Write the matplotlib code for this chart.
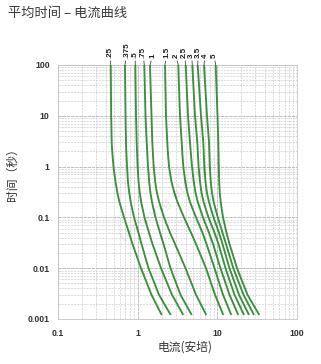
import matplotlib
matplotlib.use("Agg")
import matplotlib.pyplot as plt
from matplotlib.ticker import LogLocator, FixedLocator, FixedFormatter, NullFormatter

# ---- data ----
ratings = [".25", ".375", ".5", ".75", "1", "1.5", "2", "2.5", "3", "3.5", "4", "5"]
times = [100, 10, 3, 2, 1, 0.5, 0.3, 0.2, 0.1, 0.05, 0.03, 0.01, 0.003, 0.0012]  # s
c_025 = [0.459, 0.465, 0.472, 0.479, 0.497, 0.527, 0.558, 0.591, 0.674, 0.778, 0.861, 1.101, 1.491, 2.003]
c_0375 = [0.693, 0.704, 0.714, 0.720, 0.735, 0.756, 0.785, 0.818, 0.899, 1.024, 1.117, 1.368, 1.853, 2.598]
c_05 = [0.934, 0.953, 0.972, 0.981, 0.998, 1.027, 1.064, 1.107, 1.218, 1.388, 1.535, 1.963, 2.697, 3.740]
c_075 = [1.211, 1.254, 1.298, 1.317, 1.348, 1.396, 1.449, 1.513, 1.674, 1.907, 2.110, 2.583, 3.448, 4.767]
c_1 = [1.428, 1.491, 1.526, 1.548, 1.589, 1.660, 1.748, 1.863, 2.141, 2.546, 2.942, 3.985, 5.397, 7.269]
c_15 = [2.203, 2.268, 2.355, 2.389, 2.474, 2.659, 2.900, 3.162, 3.815, 4.671, 5.397, 7.206, 9.348, 11.88]
c_2 = [3.236, 3.399, 3.570, 3.622, 3.740, 3.962, 4.222, 4.539, 5.397, 6.513, 7.311, 9.213, 11.78, 14.97]
c_25 = [4.008, 4.282, 4.539, 4.631, 4.808, 5.064, 5.335, 5.686, 6.607, 7.859, 8.822, 10.96, 14.21, 18.33]
c_3 = [4.850, 5.245, 5.604, 5.686, 5.819, 6.060, 6.346, 6.723, 7.746, 9.213, 10.34, 12.66, 16.43, 21.61]
c_35 = [5.668, 6.236, 6.665, 6.743, 6.861, 7.103, 7.417, 7.859, 8.952, 10.49, 11.61, 14.21, 18.71, 24.97]
c_4 = [6.801, 7.417, 7.859, 7.927, 8.043, 8.279, 8.570, 9.004, 10.13, 11.61, 12.85, 15.86, 21.30, 28.86]
c_5 = [9.538, 10.05, 10.28, 10.34, 10.43, 10.55, 10.74, 11.02, 11.78, 13.03, 14.21, 17.66, 23.91, 33.62]
curves = [c_025, c_0375, c_05, c_075, c_1, c_15, c_2, c_25, c_3, c_35, c_4, c_5]

x_ticks = [0.1, 1, 10, 100]
x_tick_labels = ["0.1", "1", "10", "100"]
y_ticks = [0.001, 0.01, 0.1, 1, 10, 100]
y_tick_labels = ["0.001", "0.01", "0.1", "1", "10", "100"]

title = "平均时间 – 电流曲线"
xlabel = "电流(安培)"
ylabel = "时间（秒）"

# ---- figure ----
W, H = 321, 364
fig = plt.figure(figsize=(W / 100, H / 100), dpi=100)
fig.patch.set_facecolor("white")
cjk = ["Noto Sans CJK SC", "DejaVu Sans"]

left, right, top, bottom = 58, 297, 65, 319
ax = fig.add_axes([left / W, 1 - bottom / H, (right - left) / W, (bottom - top) / H])
ax.set_xscale("log")
ax.set_yscale("log")
ax.set_xlim(0.1, 100)
ax.set_ylim(0.001, 100)

green = "#3b8f3e"
for c in curves:
    ax.plot(c, times, color=green, lw=1.35, solid_joinstyle="round",
            solid_capstyle="butt", zorder=3)

# grid
ax.xaxis.set_major_locator(FixedLocator(x_ticks))
ax.xaxis.set_major_formatter(FixedFormatter(x_tick_labels))
ax.yaxis.set_major_locator(FixedLocator(y_ticks))
ax.yaxis.set_major_formatter(FixedFormatter(y_tick_labels))
ax.xaxis.set_minor_locator(LogLocator(base=10, subs=range(2, 10), numticks=20))
ax.yaxis.set_minor_locator(LogLocator(base=10, subs=range(2, 10), numticks=20))
ax.xaxis.set_minor_formatter(NullFormatter())
ax.yaxis.set_minor_formatter(NullFormatter())
ax.grid(which="major", color="#b4b4b4", lw=0.6, ls=(0, (4, 1)))
ax.grid(which="minor", color="#cdcdcd", lw=0.5, ls=(0, (3, 1.5)))
ax.set_axisbelow(True)
ax.tick_params(which="both", length=0)
ax.tick_params(axis="y", pad=6)
ax.tick_params(axis="x", pad=7)
for lab in ax.get_xticklabels() + ax.get_yticklabels():
    lab.set_fontfamily("Liberation Sans")
    lab.set_fontweight("bold")
    lab.set_fontsize(6.3)
    lab.set_color("#333333")
for s in ax.spines.values():
    s.set_color("#c4c4c4")
    s.set_linewidth(0.6)

# curve labels at top
label_offsets = [-0.5, 1.4, -0.2, -0.9, 1.9, 1.4, -1.7, -1.2, -0.4, 0.4, 0.7, -1.2]
for name, c, dx in zip(ratings, curves, label_offsets):
    ax.annotate(name, xy=(c[0], times[0]), xytext=(dx, 5), textcoords="offset points",
                rotation=90, ha="center", va="bottom", fontsize=5.8,
                fontfamily="Liberation Sans", fontweight="bold", color="#1e1e1e",
                annotation_clip=False,
                arrowprops=dict(arrowstyle="-", color="#444444", lw=0.6,
                                shrinkA=0, shrinkB=0))

# watermark
ax.text(0.47, 0.47, "lesheng electric", transform=ax.transAxes, rotation=40,
        fontsize=10, color="#000000", alpha=0.06, ha="center", va="center",
        fontweight="bold", zorder=4)

fig.text(8 / W, 1 - 13 / H, title, fontfamily=cjk, fontsize=9.5, color="#3a3a3a",
         ha="left", va="center")
fig.text(185 / W, 1 - 347 / H, xlabel, fontfamily=cjk, fontsize=8.5, color="#333333",
         ha="center", va="center")
fig.text(12 / W, 1 - 172 / H, ylabel, fontfamily=cjk, fontsize=8.5, color="#333333",
         ha="center", va="center", rotation=90)

fig.savefig("out.png", dpi=100, facecolor="white")
